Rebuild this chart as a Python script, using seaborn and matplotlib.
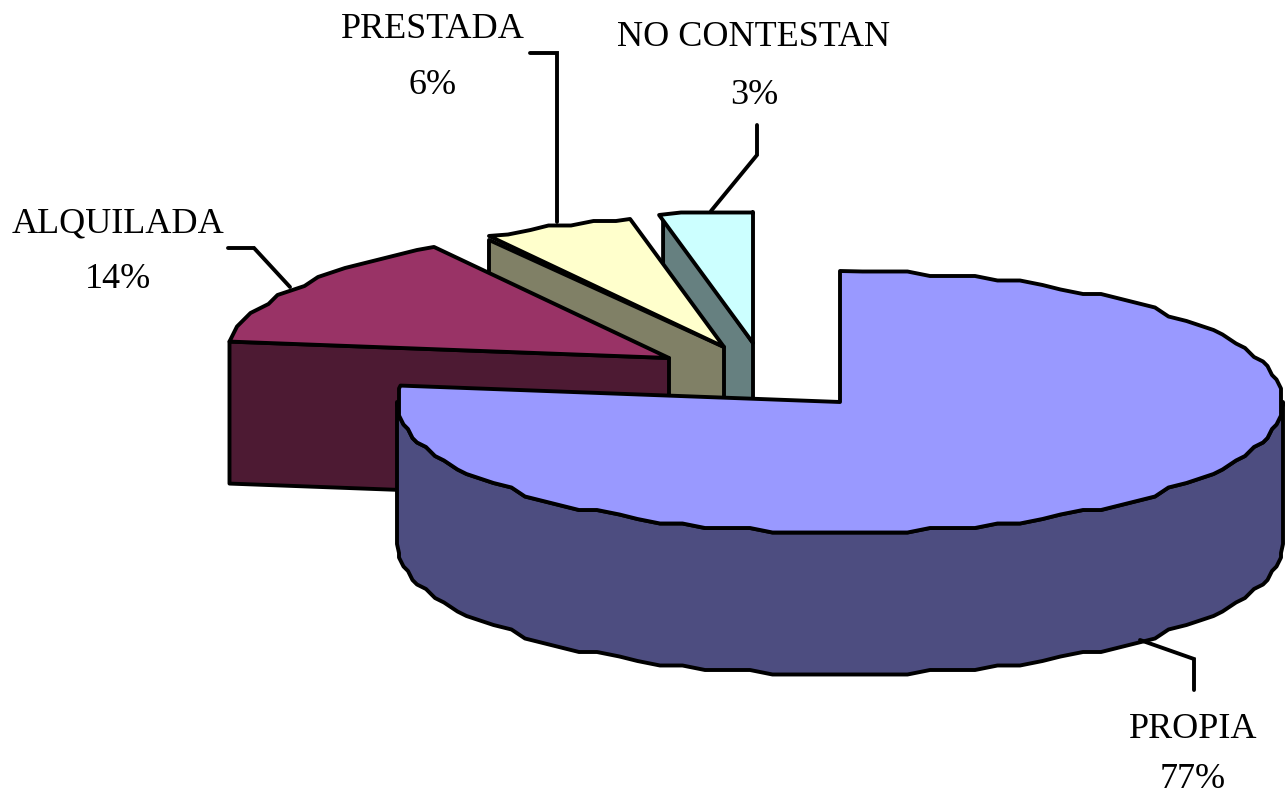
import numpy as np
import matplotlib
matplotlib.use("Agg")
import matplotlib.pyplot as plt
from matplotlib.patches import Polygon
import seaborn as sns

categories = ["PROPIA", "ALQUILADA", "PRESTADA", "NO CONTESTAN"]
shares_read = [77.0, 14.1, 5.5, 3.4]
percent_labels = ["77%", "14%", "6%", "3%"]
top_colors = ["#9999FF", "#993366", "#FFFFCC", "#CCFFFF"]

sns.set_theme(style="white")
plt.rcParams["font.family"] = ["Liberation Serif", "DejaVu Serif"]

W, H = 1285, 795
fig = plt.figure(figsize=(W / 100, H / 100), dpi=100)
ax = fig.add_axes([0, 0, 1, 1])
ax.set_xlim(0, W)
ax.set_ylim(H, 0)
ax.axis("off")

RX, RY, DEPTH = 443, 131, 142
apexes = [(840, 402), (669, 358), (724, 347), (753, 343)]
face_offsets = [(0, 0), (0, 0), (0, 4), (4, 2)]
LW = 2.8
EDGE = "black"
STEP, GRID = 3.0, 4.5


def darker(c, f):
    return tuple(v * f for v in matplotlib.colors.to_rgb(c))


def arc(cx, cy, a0, a1):
    deg = np.arange(a0, a1, STEP).tolist() + [a1]
    t = np.radians(deg)
    x = cx + RX * np.sin(t)
    y = cy - RY * np.cos(t)
    # slight stepping of the low-resolution outline in the original
    xs = cx + np.round((x - cx) / GRID) * GRID
    ys = cy + np.round((y - cy) / GRID) * GRID
    xs[0], ys[0], xs[-1], ys[-1] = x[0], y[0], x[-1], y[-1]
    return xs, ys


shares = np.array(shares_read) / sum(shares_read) * 360
starts = np.concatenate([[0], np.cumsum(shares)[:-1]])
ends = np.cumsum(shares)

# back to front
for i in [3, 2, 1, 0]:
    cx, cy = apexes[i]
    a0, a1 = starts[i], ends[i]
    top = top_colors[i]
    side = darker(top, 0.5)
    if i != 0:
        # cut face toward the viewer, from the starting radius
        dx, dy = face_offsets[i]
        fx = cx + RX * np.sin(np.radians(a0)) + dx
        fy = cy - RY * np.cos(np.radians(a0)) + dy
        ax.add_patch(Polygon([(cx, cy), (fx, fy), (fx, fy + DEPTH), (cx, cy + DEPTH)],
                             closed=True, fc=side, ec=EDGE, lw=LW, joinstyle="round"))
    else:
        # rim of the big slice, front half of the ellipse
        x, y = arc(cx, cy, 90, 270)
        rim = list(zip(x, y)) + list(zip(x[::-1], y[::-1] + DEPTH))
        ax.add_patch(Polygon(rim, closed=True, fc=side, ec=EDGE, lw=LW, joinstyle="round"))
    x, y = arc(cx, cy, a0, a1)
    poly = [(cx, cy)] + list(zip(x, y))
    ax.add_patch(Polygon(poly, closed=True, fc=top, ec=EDGE, lw=LW, joinstyle="round"))

leaders = [
    [(1140, 640), (1194, 659), (1194, 690)],
    [(290, 287), (254, 248), (228, 248)],
    [(557, 222), (557, 53), (530, 53)],
    [(711, 211), (757, 155), (757, 125)],
]
label_pos = [(1193, 729, 779), (118, 224, 280), (433, 29, 85), (754, 38, 95)]
for i, name in enumerate(categories):
    lx, ly = zip(*leaders[i])
    ax.plot(lx, ly, color=EDGE, lw=LW, solid_joinstyle="miter")
    tx, y1, y2 = label_pos[i]
    ax.text(tx, y1, name, fontsize=26, color="black", ha="center", va="center")
    ax.text(tx, y2, percent_labels[i], fontsize=26, color="black", ha="center", va="center")

fig.savefig("out.png", dpi=100, facecolor="white")
